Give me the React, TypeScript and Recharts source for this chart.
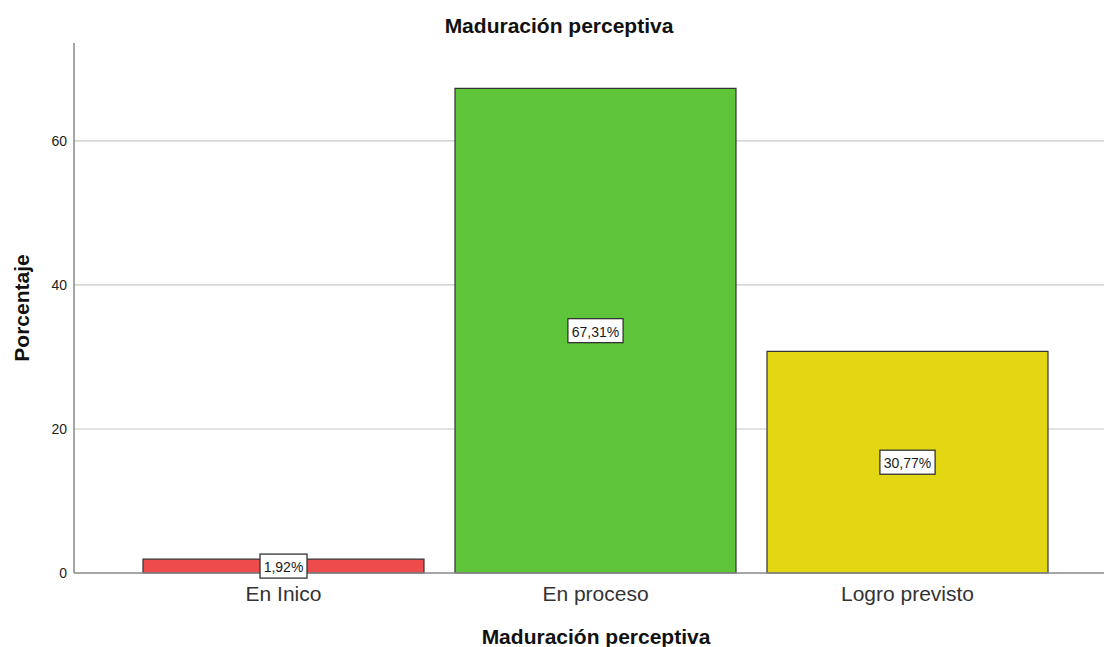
import React from 'react';
import { BarChart, Bar, XAxis, YAxis, CartesianGrid, Cell, LabelList, Label } from 'recharts';

const categories = ['En Inico', 'En proceso', 'Logro previsto'];
const percentages = [1.92, 67.31, 30.77];
const valueLabels = ['1,92%', '67,31%', '30,77%'];
const barColors = ['#EE4C4C', '#5EC43A', '#E2D712'];
const yTicks = [0, 20, 40, 60];
const gridValues = [20, 40, 60];
const chartTitle = 'Maduración perceptiva';
const xTitle = 'Maduración perceptiva';
const yTitle = 'Porcentaje';

const data = categories.map((c, i) => ({ name: c, value: percentages[i], label: valueLabels[i] }));

const FONT = '"Liberation Sans", Arial, sans-serif';

const BoxLabel = (props: any) => {
  const { x, y, width, height, value } = props;
  const cx = Number(x) + Number(width) / 2;
  const cy = Number(y) + Number(height) / 2;
  const w = String(value).length * 8.2 + 6;
  return (
    <g>
      <rect x={cx - w / 2} y={cy - 12} width={w} height={24} fill="#ffffff" stroke="#333333" strokeWidth={1.3} />
      <text x={cx} y={cy + 1} textAnchor="middle" dominantBaseline="central" fontSize={14} fontFamily={FONT} fill="#1a1a1a">
        {value}
      </text>
    </g>
  );
};

export default function App() {
  return (
    <div style={{ position: 'absolute', left: 0, top: 0, width: 1104, height: 647, background: '#fff', fontFamily: FONT }}>
      <div style={{ position: 'absolute', left: 0, width: 1118, top: 14, textAlign: 'center', fontWeight: 'bold', fontSize: 21, lineHeight: '24px', color: '#111' }}>
        {chartTitle}
      </div>
      <BarChart
        width={1104}
        height={647}
        data={data}
        margin={{ top: 43, right: 0, bottom: 0, left: 0 }}
        barCategoryGap={15.5}
      >
        <CartesianGrid vertical={false} horizontalValues={gridValues} stroke="#c8c8c8" strokeWidth={1.2} />
        <XAxis
          dataKey="name"
          height={74}
          padding={{ left: 53.5, right: 40.5 }}
          stroke="#888888"
          strokeWidth={1.5}
          tickLine={false}
          tickSize={0}
          tickMargin={13}
          tick={{ fontSize: 21, fill: '#333333', fontFamily: FONT }}
        >
          <Label
            content={() => (
              <text x={596} y={636} textAnchor="middle" dominantBaseline="central" fontSize={21} fontWeight="bold" fontFamily={FONT} fill="#111">
                {xTitle}
              </text>
            )}
          />
        </XAxis>
        <YAxis
          width={74}
          domain={[0, 73.6]}
          ticks={yTicks}
          stroke="#888888"
          strokeWidth={1.5}
          tickLine={false}
          tickSize={0}
          tickMargin={7}
          tick={{ fontSize: 14, fill: '#222222', fontFamily: FONT }}
        >
          <Label
            content={() => (
              <text x={21} y={308} transform="rotate(-90 21 308)" textAnchor="middle" dominantBaseline="central" fontSize={21} fontWeight="bold" fontFamily={FONT} fill="#111">
                {yTitle}
              </text>
            )}
          />
        </YAxis>
        <Bar dataKey="value" stroke="#333333" strokeWidth={1.2} isAnimationActive={false}>
          {data.map((d, i) => (
            <Cell key={d.name} fill={barColors[i]} />
          ))}
          <LabelList dataKey="label" content={BoxLabel} />
        </Bar>
      </BarChart>
    </div>
  );
}
